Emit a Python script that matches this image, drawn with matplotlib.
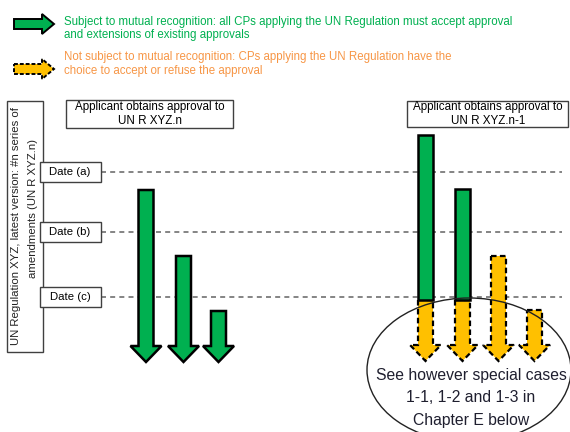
#!/usr/bin/env python3
"""
Mutual recognition diagram: approvals to UN R XYZ.n vs UN R XYZ.n-1.
"""

import matplotlib.pyplot as plt
from matplotlib.patches import Polygon, Rectangle, Ellipse

# --- diagram content -------------------------------------------------------
legend_texts = [
    "Subject to mutual recognition: all CPs applying the UN Regulation must accept approval\nand extensions of existing approvals",
    "Not subject to mutual recognition: CPs applying the UN Regulation have the\nchoice to accept or refuse the approval",
]
date_labels = ["Date (a)", "Date (b)", "Date (c)"]
date_levels = [172, 232, 297]          # vertical position of each date
axis_label = ["UN Regulation XYZ, latest version: #n series of",
              "amendments (UN R XYZ.n)"]
box_labels = ["Applicant obtains approval to\nUN R XYZ.n",
              "Applicant obtains approval to\nUN R XYZ.n-1"]

# approvals to the latest version (all green, mutual recognition)
n_starts = [190, 256, 311]
# approvals to the previous version: green until Date (c), then yellow
n1_starts = [135, 189, 256, 310]
n1_green = [True, True, False, False]
ellipse_text = "See however special cases\n1-1, 1-2 and 1-3 in\nChapter E below"

GREEN = '#00b050'
YELLOW = '#ffc000'
ORANGE = '#f79646'
FONT = 'Liberation Sans'


def arrow_poly(xc, top, head_base, tip, body_w=15, head_w=31):
    return [(xc - body_w / 2, top), (xc + body_w / 2, top),
            (xc + body_w / 2, head_base), (xc + head_w / 2, head_base),
            (xc, tip), (xc - head_w / 2, head_base),
            (xc - body_w / 2, head_base)]


def h_arrow(x0, x1, yc, body_h=10, head_h=20, head_l=12):
    return [(x0, yc - body_h / 2), (x1 - head_l, yc - body_h / 2),
            (x1 - head_l, yc - head_h / 2), (x1, yc),
            (x1 - head_l, yc + head_h / 2), (x1 - head_l, yc + body_h / 2),
            (x0, yc + body_h / 2)]


fig = plt.figure(figsize=(5.7, 4.32), dpi=100)
ax = fig.add_axes([0, 0, 1, 1])
ax.set_xlim(0, 570)
ax.set_ylim(432, 0)
ax.axis('off')

# legend
ax.add_patch(Polygon(h_arrow(14, 54, 24), closed=True, fc=GREEN, ec='black', lw=1.4))
ax.add_patch(Polygon(h_arrow(14, 54, 69), closed=True, fc=YELLOW, ec='black', lw=1.4, ls=(0, (2, 1))))
ax.text(64, 28.5, legend_texts[0], color=GREEN, fontsize=8.3, family=FONT,
        va='center', ha='left', linespacing=1.15)
ax.text(64, 64, legend_texts[1], color=ORANGE, fontsize=8.3, family=FONT,
        va='center', ha='left', linespacing=1.15)

# left vertical axis box
ax.add_patch(Rectangle((7, 101), 36, 251, fc='white', ec='#404040', lw=1))
ax.text(16, 226, axis_label[0], rotation=90, fontsize=8.2, family=FONT,
        va='center', ha='center', color='#222222')
ax.text(33, 208, axis_label[1], rotation=90, fontsize=8.2, family=FONT,
        va='center', ha='center', color='#222222')

# date boxes and dashed lines
for lab, y in zip(date_labels, date_levels):
    ax.plot([101, 562], [y, y], color='#707070', lw=1.2, ls=(0, (3, 2.5)), zorder=1)
    ax.add_patch(Rectangle((40, y - 10), 61, 20, fc='white', ec='#404040', lw=1, zorder=2))
    ax.text(70, y, lab, fontsize=8.2, family=FONT, va='center', ha='center', zorder=3)

# header boxes
ax.add_patch(Rectangle((66, 100), 167, 28, fc='white', ec='#404040', lw=1))
ax.text(149.5, 114, box_labels[0], fontsize=8.4, family=FONT, va='center',
        ha='center', linespacing=1.15)
ax.add_patch(Rectangle((407, 101), 161, 26, fc='white', ec='#404040', lw=1))
ax.text(488, 114, box_labels[1], fontsize=8.4, family=FONT, va='center',
        ha='center', linespacing=1.15)

# approvals to UN R XYZ.n
for xc, top in zip([146, 183.5, 218.5], n_starts):
    ax.add_patch(Polygon(arrow_poly(xc, top, 346, 362), closed=True,
                         fc=GREEN, ec='black', lw=1.8, zorder=4))

# approvals to UN R XYZ.n-1
for xc, top, green in zip([425.5, 462.5, 498.5, 534.5], n1_starts, n1_green):
    if green:
        ax.add_patch(Polygon(arrow_poly(xc, 300, 345, 361), closed=True,
                             fc=YELLOW, ec='black', lw=1.6, ls=(0, (2.5, 1.5)), zorder=4))
        ax.add_patch(Rectangle((xc - 7.5, top), 15, 300 - top, fc=GREEN,
                               ec='black', lw=1.8, zorder=5))
    else:
        ax.add_patch(Polygon(arrow_poly(xc, top, 345, 361), closed=True,
                             fc=YELLOW, ec='black', lw=1.6, ls=(0, (2.5, 1.5)), zorder=4))

ax.add_patch(Ellipse((469, 370), 204, 144, fc='none', ec='#222222', lw=1, zorder=6))
ax.text(471, 398, ellipse_text, fontsize=11.3, family=FONT, va='center',
        ha='center', color='#1f1f2f', linespacing=1.6, zorder=7)

plt.savefig('out.png', dpi=100)
